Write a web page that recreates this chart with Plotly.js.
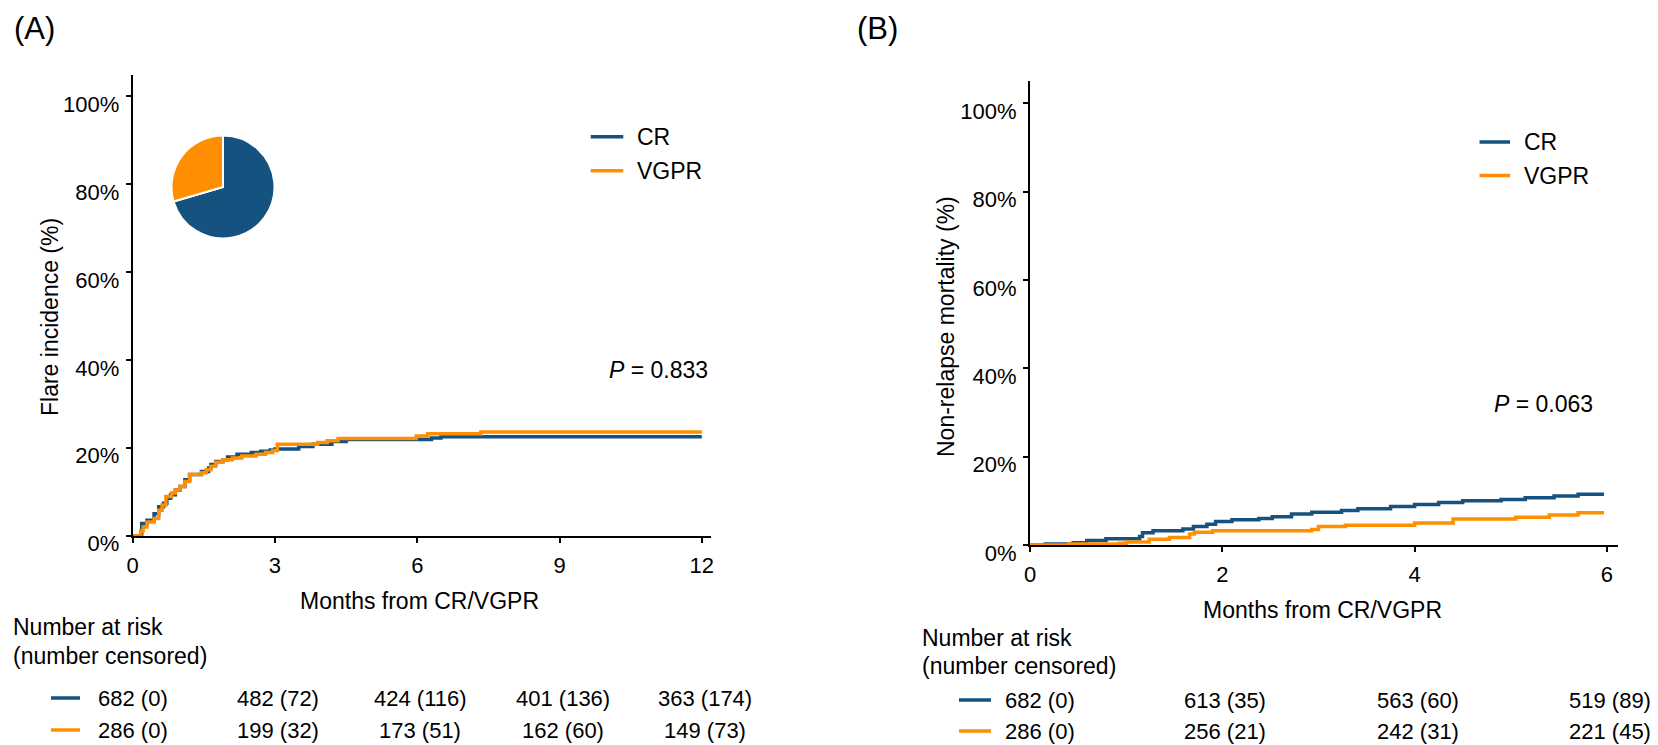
<!DOCTYPE html>
<html>
<head>
<meta charset="utf-8">
<script src="https://cdn.plot.ly/plotly-3.0.1.min.js"></script>
<style>html,body{margin:0;padding:0;background:#fff;}#chart{width:1658px;height:745px;}</style>
</head>
<body>
<div id="chart"></div>
<script>
// ---------- data ----------
const groups = ['CR', 'VGPR'];
const colors = ['#15527f', '#ff8f00'];

// Panel A: flare incidence (%), months
const crA_t = [0, 0.19, 0.3, 0.45, 0.55, 0.65, 0.72, 0.8, 0.9, 1.0, 1.1, 1.2, 1.45, 1.6, 1.65, 1.75, 1.9, 2.0, 2.2, 2.5, 2.7, 2.9, 3.0, 3.5, 3.8, 4.2, 4.5, 6.3, 6.5, 12];
const crA_y = [0, 2.8, 3.5, 5.0, 6.6, 7.4, 8.5, 9.3, 10.4, 11.2, 12.7, 13.9, 14.6, 15.4, 16.2, 16.9, 17.3, 17.9, 18.5, 18.9, 19.2, 19.5, 19.7, 20.3, 20.8, 21.4, 21.9, 22.2, 22.5, 22.5];
const vgA_t = [0, 0.17, 0.22, 0.3, 0.45, 0.55, 0.62, 0.7, 0.82, 0.9, 1.0, 1.1, 1.2, 1.45, 1.55, 1.65, 1.75, 1.9, 2.1, 2.3, 2.6, 2.8, 2.95, 3.05, 3.9, 4.1, 4.33, 5.98, 6.22, 7.34, 12];
const vgA_y = [0, 1.1, 2.0, 3.1, 3.9, 5.8, 7.0, 8.9, 9.7, 10.4, 11.2, 12.3, 13.9, 14.3, 15.0, 15.8, 16.7, 17.3, 17.7, 18.1, 18.5, 18.9, 19.4, 20.8, 21.2, 21.6, 22.1, 22.7, 23.2, 23.6, 23.6];

// Panel B: non-relapse mortality (%), months
const crB_t = [0, 0.16, 0.45, 0.59, 0.79, 1.14, 1.17, 1.28, 1.59, 1.7, 1.84, 1.93, 2.1, 2.38, 2.52, 2.72, 2.93, 3.24, 3.41, 3.75, 4.0, 4.25, 4.5, 4.9, 5.15, 5.45, 5.7, 5.97];
const crB_y = [0, 0.2, 0.5, 1.0, 1.4, 1.9, 2.8, 3.2, 3.6, 4.2, 4.7, 5.3, 5.7, 6.0, 6.4, 7.0, 7.4, 7.8, 8.2, 8.7, 9.2, 9.6, 10.0, 10.3, 10.7, 11.1, 11.5, 11.5];
const vgB_t = [0, 0.4, 0.93, 1.0, 1.24, 1.45, 1.66, 1.71, 1.9, 2.93, 3.0, 3.28, 4.0, 4.4, 5.05, 5.4, 5.7, 5.97];
const vgB_y = [0, 0.2, 0.4, 0.7, 1.3, 1.7, 2.5, 2.9, 3.2, 3.5, 4.2, 4.5, 5.0, 5.9, 6.3, 6.8, 7.3, 7.3];

// Number at risk (number censored)
const riskA_t = [0, 3, 6, 9, 12];
const riskA_CR_n = [682, 482, 424, 401, 363];
const riskA_CR_c = [0, 72, 116, 136, 174];
const riskA_VG_n = [286, 199, 173, 162, 149];
const riskA_VG_c = [0, 32, 51, 60, 73];
const riskB_t = [0, 2, 4, 6];
const riskB_CR_n = [682, 613, 563, 519];
const riskB_CR_c = [0, 35, 60, 89];
const riskB_VG_n = [286, 256, 242, 221];
const riskB_VG_c = [0, 21, 31, 45];

const pValues = ['0.833', '0.063'];
const yTicks = [0, 20, 40, 60, 80, 100];
const yTickText = ['0%', '20%', '40%', '60%', '80%', '100%'];

// ---------- layout helpers ----------
const W = 1658, H = 745;
const px = v => v / W;
const py = v => (H - v) / H;
const FONT = 'Liberation Sans, Arial, Helvetica, sans-serif';

function curve(t, y, i, xa, ya) {
  return {
    type: 'scatter', mode: 'lines', x: t, y: y, name: groups[i],
    xaxis: xa, yaxis: ya, line: {color: colors[i], width: 3.5, shape: 'hv'},
    cliponaxis: false, showlegend: false, hoverinfo: 'x+y+name'
  };
}

const traces = [
  curve(crA_t, crA_y, 0, 'x', 'y'),
  curve(vgA_t, vgA_y, 1, 'x', 'y'),
  curve(crB_t, crB_y, 0, 'x2', 'y2'),
  curve(vgB_t, vgB_y, 1, 'x2', 'y2'),
  {
    type: 'pie', labels: groups, values: [riskA_CR_n[0], riskA_VG_n[0]],
    marker: {colors: colors, line: {color: '#ffffff', width: 2}},
    sort: false, direction: 'clockwise', rotation: 0,
    textinfo: 'none', hoverinfo: 'label+value+percent', showlegend: false,
    domain: {x: [px(223 - 51.5), px(223 + 51.5)], y: [py(187 + 51.5), py(187 - 51.5)]}
  }
];

const axisCommon = {
  showline: true, linecolor: '#000', linewidth: 2, mirror: false,
  showgrid: false, zeroline: false, ticks: 'outside', ticklen: 5, tickwidth: 2, tickcolor: '#000',
  tickfont: {family: FONT, size: 22, color: '#000'}, fixedrange: true
};

const annotations = [];
const shapes = [];
function txt(text, x, y, opts) {
  annotations.push(Object.assign({
    text: text, x: x, y: y, xref: 'paper', yref: 'paper', showarrow: false,
    xanchor: 'left', yanchor: 'middle', font: {family: FONT, size: 23, color: '#000'}
  }, opts || {}));
}
function seg(x0, x1, y, color) {
  shapes.push({type: 'line', xref: 'paper', yref: 'paper', x0: px(x0), x1: px(x1), y0: py(y), y1: py(y),
    line: {color: color, width: 3.5}});
}

// panel labels
txt('(A)', px(12), py(29), {font: {family: FONT, size: 31, color: '#000'}});
txt('(B)', px(855), py(29), {font: {family: FONT, size: 31, color: '#000'}});

// axis titles
txt('Flare incidence (%)', px(50), py(317), {xanchor: 'center', textangle: -90});
txt('Non-relapse mortality (%)', px(946), py(327), {xanchor: 'center', textangle: -90});
txt('Months from CR/VGPR', px(419), py(601), {xanchor: 'center'});
txt('Months from CR/VGPR', px(1322), py(610), {xanchor: 'center'});

// p values
txt('<i>P</i> = ' + pValues[0], px(710), py(370), {xanchor: 'right'});
txt('<i>P</i> = ' + pValues[1], px(1595), py(404), {xanchor: 'right'});

// legends
[[590.7, 623.3, 136.7, 635], [590.7, 623.3, 170.7, 635]].forEach((p, i) => {
  seg(p[0], p[1], p[2], colors[i]); txt(groups[i], px(p[3]), py(p[2]));
});
[[1479.5, 1510, 142, 1521.5], [1479.5, 1510, 175.5, 1521.5]].forEach((p, i) => {
  seg(p[0], p[1], p[2], colors[i]); txt(groups[i], px(p[3]), py(p[2]));
});

// risk tables
function riskTable(xref, times, nCR, cCR, nVG, cVG, left, lineX, hdrY, rowY, firstShift) {
  txt('Number at risk', px(left), py(hdrY[0]));
  txt('(number censored)', px(left), py(hdrY[1]));
  seg(lineX[0], lineX[1], rowY[0], colors[0]);
  seg(lineX[0], lineX[1], rowY[1], colors[1]);
  const f = {family: FONT, size: 22, color: '#000'};
  times.forEach((t, k) => {
    const xs = k === 0 ? firstShift : 3;
    txt(nCR[k] + ' (' + cCR[k] + ')', t, py(rowY[0]), {xref: xref, xanchor: 'center', font: f, xshift: xs});
    txt(nVG[k] + ' (' + cVG[k] + ')', t, py(rowY[1]), {xref: xref, xanchor: 'center', font: f, xshift: xs});
  });
}
riskTable('x', riskA_t, riskA_CR_n, riskA_CR_c, riskA_VG_n, riskA_VG_c, 11, [51, 80], [627, 656], [698, 730], 0);
riskTable('x2', riskB_t, riskB_CR_n, riskB_CR_c, riskB_VG_n, riskB_VG_c, 920, [959, 991], [638, 666], [700, 731], 10);

const yAxisExtra = {tickmode: 'array', tickvals: yTicks, ticktext: yTickText, ticklabelshift: 8, ticklabelstandoff: 2};

const layout = {
  width: W, height: H, margin: {l: 0, r: 0, t: 0, b: 0},
  paper_bgcolor: '#fff', plot_bgcolor: '#fff', showlegend: false,
  font: {family: FONT, color: '#000'},
  xaxis: Object.assign({}, axisCommon, {domain: [px(132.7), px(711.3)], range: [0, 12.2], tickmode: 'array', tickvals: riskA_t, anchor: 'y', ticklabelstandoff: 4}),
  yaxis: Object.assign({}, axisCommon, yAxisExtra, {domain: [py(535.7), py(74.5)], range: [0, 104.9], anchor: 'x'}),
  xaxis2: Object.assign({}, axisCommon, {domain: [px(1030), px(1617.5)], range: [0, 6.11], tickmode: 'array', tickvals: riskB_t, anchor: 'y2', ticklabelstandoff: 4}),
  yaxis2: Object.assign({}, axisCommon, yAxisExtra, {domain: [py(545), py(81.4)], range: [0, 105], anchor: 'x2'}),
  annotations: annotations, shapes: shapes
};

Plotly.newPlot('chart', traces, layout, {displayModeBar: false});
</script>
</body>
</html>
